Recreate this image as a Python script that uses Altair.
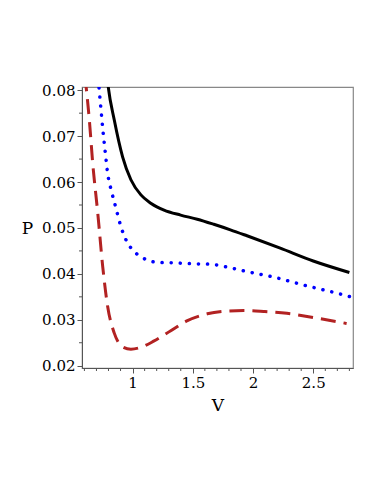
import altair as alt
import pandas as pd

# Black solid curve
black_x = [0.79, 0.798, 0.848, 0.917, 0.986, 1.069, 1.151, 1.261, 1.399, 1.537, 1.674, 1.812, 1.95, 2.226, 2.50, 2.80]
black_y = [0.0825, 0.0807, 0.0735, 0.0655, 0.0605, 0.0572, 0.0554, 0.0539, 0.0528, 0.0519, 0.0508, 0.0496, 0.0483, 0.0456, 0.0428, 0.0403]

# Blue dotted curve
blue_x = [0.715, 0.724, 0.738, 0.752, 0.771, 0.793, 0.826, 0.862, 0.903, 0.959, 1.005, 1.069, 1.124, 1.207, 1.344, 1.509, 1.647, 1.798, 1.95, 2.17, 2.446, 2.666, 2.81]
blue_y = [0.0825, 0.0797, 0.0757, 0.0717, 0.0670, 0.0619, 0.0579, 0.0543, 0.0503, 0.0467, 0.0451, 0.0437, 0.0430, 0.0425, 0.0424, 0.0422, 0.0421, 0.0414, 0.0405, 0.0393, 0.0374, 0.0360, 0.0350]

# Red dashed curve
red_x = [0.605, 0.614, 0.641, 0.669, 0.711, 0.752, 0.793, 0.848, 0.917, 0.986, 1.069, 1.179, 1.317, 1.455, 1.62, 1.785, 1.922, 2.088, 2.281, 2.50, 2.777]
red_y = [0.0830, 0.0808, 0.0735, 0.0641, 0.0532, 0.0416, 0.0329, 0.0271, 0.0241, 0.0236, 0.0240, 0.0254, 0.0276, 0.0298, 0.0313, 0.0319, 0.0320, 0.0318, 0.0314, 0.0305, 0.0292]

x_major_ticks = [1.0, 1.5, 2.0, 2.5]
x_minor_ticks = [0.6, 0.7, 0.8, 0.9, 1.1, 1.2, 1.3, 1.4, 1.6, 1.7, 1.8, 1.9,
                 2.1, 2.2, 2.3, 2.4, 2.6, 2.7, 2.8]
y_major_ticks = [0.02, 0.03, 0.04, 0.05, 0.06, 0.07, 0.08]
y_minor_ticks = [0.025, 0.035, 0.045, 0.055, 0.065, 0.075]

X_DOMAIN = [0.58, 2.83]
Y_DOMAIN = [0.0195, 0.0807]

W, H = 271, 281
FONT = "DejaVu Serif"
AXIS_COLOR = "#555555"

x_enc = alt.X(
    "x:Q",
    scale=alt.Scale(domain=X_DOMAIN, nice=False, zero=False),
    axis=alt.Axis(
        values=x_major_ticks,
        labelExpr="format(datum.value, '')",
        tickSize=5,
        title="V",
        titleFont=FONT,
        titleFontSize=17,
        titleFontWeight="normal",
        titleColor="black",
        titleX=W / 2,
        titleY=37,
        titleBaseline="middle",
        titleAlign="center",
        labelFont=FONT,
        labelFontSize=15,
        labelColor="black",
        labelPadding=2,
        labelFlush=False,
        labelOverlap=False,
        grid=False,
        domainColor=AXIS_COLOR,
        tickColor=AXIS_COLOR,
    ),
)

y_enc = alt.Y(
    "y:Q",
    scale=alt.Scale(domain=Y_DOMAIN, nice=False, zero=False),
    axis=alt.Axis(
        values=y_major_ticks,
        labelExpr="format(datum.value, '.2f')",
        tickSize=5,
        title="P",
        titleFont=FONT,
        titleFontSize=17,
        titleFontWeight="normal",
        titleColor="black",
        titleAngle=0,
        titleX=-55,
        titleY=141,
        titleBaseline="middle",
        titleAlign="center",
        labelFont=FONT,
        labelFontSize=15,
        labelColor="black",
        labelPadding=2,
        labelFlush=False,
        labelOverlap=False,
        grid=False,
        domainColor=AXIS_COLOR,
        tickColor=AXIS_COLOR,
    ),
)

df_black = pd.DataFrame({"x": black_x, "y": black_y})
df_blue = pd.DataFrame({"x": blue_x, "y": blue_y})
df_red = pd.DataFrame({"x": red_x, "y": red_y})
df_xminor = pd.DataFrame({"x": x_minor_ticks})
df_yminor = pd.DataFrame({"y": y_minor_ticks})

black = alt.Chart(df_black).mark_line(
    color="black", strokeWidth=3, interpolate="monotone", clip=True
).encode(x=x_enc, y=y_enc)

blue = alt.Chart(df_blue).mark_line(
    color="#0000ff", strokeWidth=3.5, strokeDash=[0.1, 9], strokeCap="round",
    interpolate="monotone", clip=True
).encode(x="x:Q", y="y:Q")

red = alt.Chart(df_red).mark_line(
    color="#b22222", strokeWidth=3, strokeDash=[15, 8], interpolate="monotone", clip=True
).encode(x="x:Q", y="y:Q")

x_minor = alt.Chart(df_xminor).mark_rule(color=AXIS_COLOR, strokeWidth=1).encode(
    x="x:Q", y=alt.value(H), y2=alt.value(H + 3)
)
y_minor = alt.Chart(df_yminor).mark_rule(color=AXIS_COLOR, strokeWidth=1).encode(
    y="y:Q", x=alt.value(-3), x2=alt.value(0)
)

chart = alt.layer(black, blue, red, x_minor, y_minor).properties(
    width=W,
    height=H,
    autosize=alt.AutoSizeParams(type="none"),
    padding={"left": 74, "top": 79, "right": 20, "bottom": 60},
).configure_view(stroke="#888888", strokeWidth=1.2)

chart.save("out.html", embed_options={"renderer": "svg", "actions": False})
